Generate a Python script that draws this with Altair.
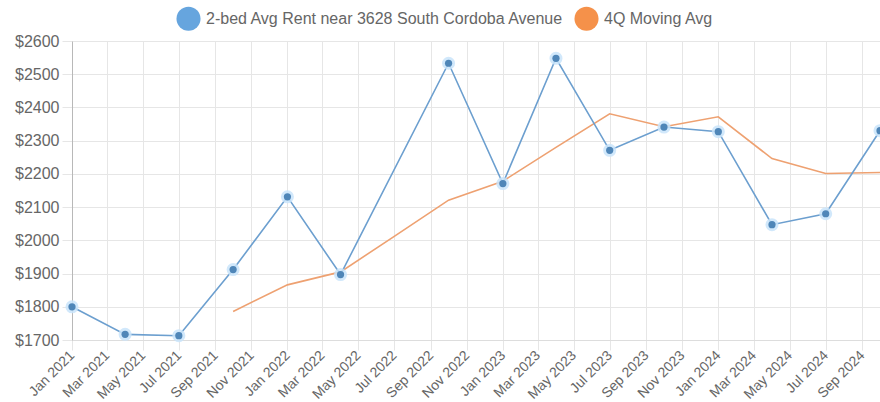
import altair as alt
import pandas as pd

# Quarterly observations (first day of each quarter)
QUARTERS = [
    "2021-01-01", "2021-04-01", "2021-07-01", "2021-10-01",
    "2022-01-01", "2022-04-01", "2022-07-01", "2022-10-01",
    "2023-01-01", "2023-04-01", "2023-07-01", "2023-10-01",
    "2024-01-01", "2024-04-01", "2024-07-01", "2024-10-01",
]
RENT = [1800, 1717, 1713, 1912, 2131, 1897, None, 2533,
        2171, 2548, 2271, 2341, 2327, 2047, 2080, 2330]
MOVING_AVG = [None, None, None, 1786, 1866, 1905, 2012, 2121,
              2178, 2280, 2381, 2342, 2372, 2246, 2201, 2204]

SERIES = ["2-bed Avg Rent near 3628 South Cordoba Avenue", "4Q Moving Avg"]
LINE_COLORS = ["#6c9fcf", "#eea171"]
LEGEND_COLORS = ["#66a5de", "#f5914a"]

# Axis ticks
X_TICK_YEARS = [2021] * 6 + [2022] * 6 + [2023] * 6 + [2024] * 5
X_TICK_MONTHS = [1, 3, 5, 7, 9, 11] * 3 + [1, 3, 5, 7, 9]
Y_TICKS = [1700, 1800, 1900, 2000, 2100, 2200, 2300, 2400, 2500, 2600]

FONT = "Liberation Sans"
GRID = "#e6e6e6"

rows = []
for name, values in zip(SERIES, [RENT, MOVING_AVG]):
    for q, v in zip(QUARTERS, values):
        if v is not None:
            rows.append({"date": q + "T00:00:00", "value": v, "series": name})
df = pd.DataFrame(rows)
rent_df = df[df["series"] == SERIES[0]]
avg_df = df[df["series"] == SERIES[1]]

x_enc = alt.X(
    "date:T",
    title=None,
    scale=alt.Scale(domain=[alt.DateTime(year=2021, month=1, date=1),
                            alt.DateTime(year=2024, month=10, date=1)]),
    axis=alt.Axis(
        values=[alt.DateTime(year=y, month=m, date=1)
                for y, m in zip(X_TICK_YEARS, X_TICK_MONTHS)],
        format="%b %Y",
        labelAngle=-45,
        labelAlign="right",
        labelBaseline="middle",
        labelPadding=3,
        labelFontSize=14,
        labelFont=FONT,
        labelColor="#666666",
        grid=True,
        gridColor=GRID,
        tickColor=GRID,
        tickSize=10,
        domainColor="#dddddd",
        labelOverlap=False,
    ),
)
y_enc = alt.Y(
    "value:Q",
    title=None,
    scale=alt.Scale(domain=[1700, 2600], nice=False, zero=False),
    axis=alt.Axis(
        values=Y_TICKS,
        labelExpr="'$' + datum.value",
        labelFontSize=16,
        labelFont=FONT,
        labelColor="#666666",
        labelPadding=3,
        grid=True,
        gridColor=GRID,
        tickColor=GRID,
        tickSize=10,
        domainColor="#b8b8b8",
    ),
)

rent_line = alt.Chart(rent_df).mark_line(color=LINE_COLORS[0], strokeWidth=1.6).encode(
    x=x_enc, y=y_enc
)
avg_line = alt.Chart(avg_df).mark_line(color=LINE_COLORS[1], strokeWidth=1.6).encode(
    x=x_enc, y=y_enc
)

# invisible layer that only carries the legend (filled circles)
legend_layer = alt.Chart(df).mark_circle().encode(
    x=x_enc,
    y=y_enc,
    fill=alt.Fill(
        "series:N",
        scale=alt.Scale(domain=SERIES, range=LEGEND_COLORS),
        legend=alt.Legend(
            title=None,
            orient="none",
            legendX=104,
            legendY=-35,
            direction="horizontal",
            symbolType="circle",
            symbolSize=580,
            symbolStrokeWidth=0,
            symbolOpacity=1,
            labelFontSize=16,
            labelFont=FONT,
            labelColor="#666666",
            labelLimit=0,
            labelOffset=5,
            columnPadding=10,
            padding=0,
        ),
    ),
    opacity=alt.value(0),
)

halo = alt.Chart(rent_df).mark_circle(size=170, color="#c9e4fa", opacity=0.85).encode(
    x=x_enc, y=y_enc
)
dots = alt.Chart(rent_df).mark_circle(size=52, color="#4f86b8", opacity=1).encode(
    x=x_enc, y=y_enc
)

chart = alt.layer(avg_line, rent_line, legend_layer, halo, dots).properties(
    width=808,
    height=299,
    autosize=alt.AutoSizeParams(type="none"),
    padding={"left": 72, "top": 41, "right": 0, "bottom": 62},
    background="white",
).configure_view(stroke=None)

chart.save("out.html", embed_options={"renderer": "svg", "actions": False})
